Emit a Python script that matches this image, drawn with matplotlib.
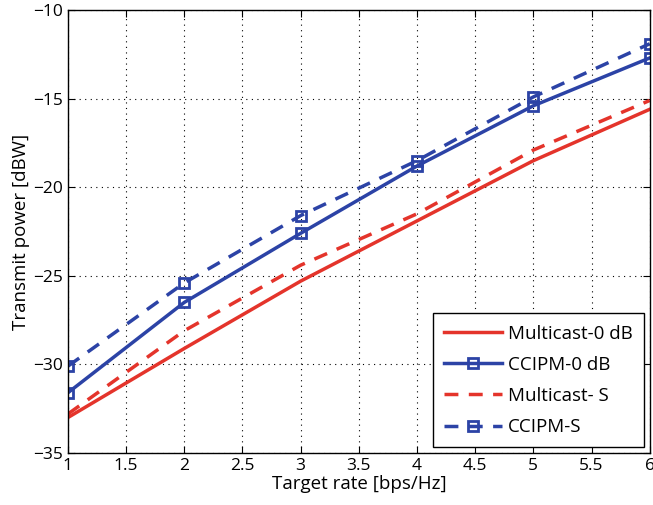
import numpy as np
import matplotlib
matplotlib.use('Agg')
import matplotlib.pyplot as plt

plt.rcParams['font.family'] = ['Open Sans', 'DejaVu Sans']

rate = [1, 2, 3, 4, 5, 6]
multicast_0db = [-33.0, -29.1, -25.3, -21.9, -18.5, -15.6]
ccipm_0db = [-31.6, -26.5, -22.6, -18.8, -15.4, -12.7]
multicast_s = [-32.8, -28.1, -24.4, -21.5, -17.9, -15.1]
ccipm_s = [-30.1, -25.4, -21.6, -18.5, -14.9, -11.9]

red = '#e4342b'
blue = '#2c43a6'

fig = plt.figure(figsize=(6.53, 5.05), dpi=100)
ax = fig.add_axes([0.104, 0.103, 0.891, 0.877])

ax.plot(rate, multicast_0db, '-', color=red, lw=2.5, label='Multicast-0 dB')
ax.plot(rate, ccipm_0db, '-', color=blue, lw=2.5, marker='s', ms=7.5, mfc='none', mew=2, label='CCIPM-0 dB')
ax.plot(rate, multicast_s, '--', color=red, lw=2.5, dashes=(4, 3), label='Multicast- S')
ax.plot(rate, ccipm_s, '--', color=blue, lw=2.5, dashes=(4, 3), marker='s', ms=7.5, mfc='none', mew=2, label='CCIPM-S')

ax.set_xlim(1, 6)
ax.set_ylim(-35, -10)
ax.set_xticks(np.arange(1, 6.01, 0.5))
ax.set_xticklabels(['1', '1.5', '2', '2.5', '3', '3.5', '4', '4.5', '5', '5.5', '6'])
ax.set_yticks([-35, -30, -25, -20, -15, -10])
ax.set_yticklabels(['\u221235', '\u221230', '\u221225', '\u221220', '\u221215', '\u221210'])
ax.tick_params(direction='in', labelsize=12.5, length=5, top=True, right=True)
ax.grid(True, linestyle=(0, (1, 4)), color='black', lw=0.8)
for s in ax.spines.values():
    s.set_linewidth(1.0)

ax.set_xlabel('Target rate [bps/Hz]', fontsize=13.5, labelpad=1)
ax.set_ylabel('Transmit power [dBW]', fontsize=13.5, labelpad=2)

leg = ax.legend(loc='lower right', fontsize=13.5, fancybox=False, edgecolor='black',
                framealpha=1, handlelength=3.1, borderaxespad=0.3, labelspacing=0.7,
                borderpad=0.6, handletextpad=0.3)
leg.get_frame().set_linewidth(1.0)

fig.savefig('out.png', dpi=100)
